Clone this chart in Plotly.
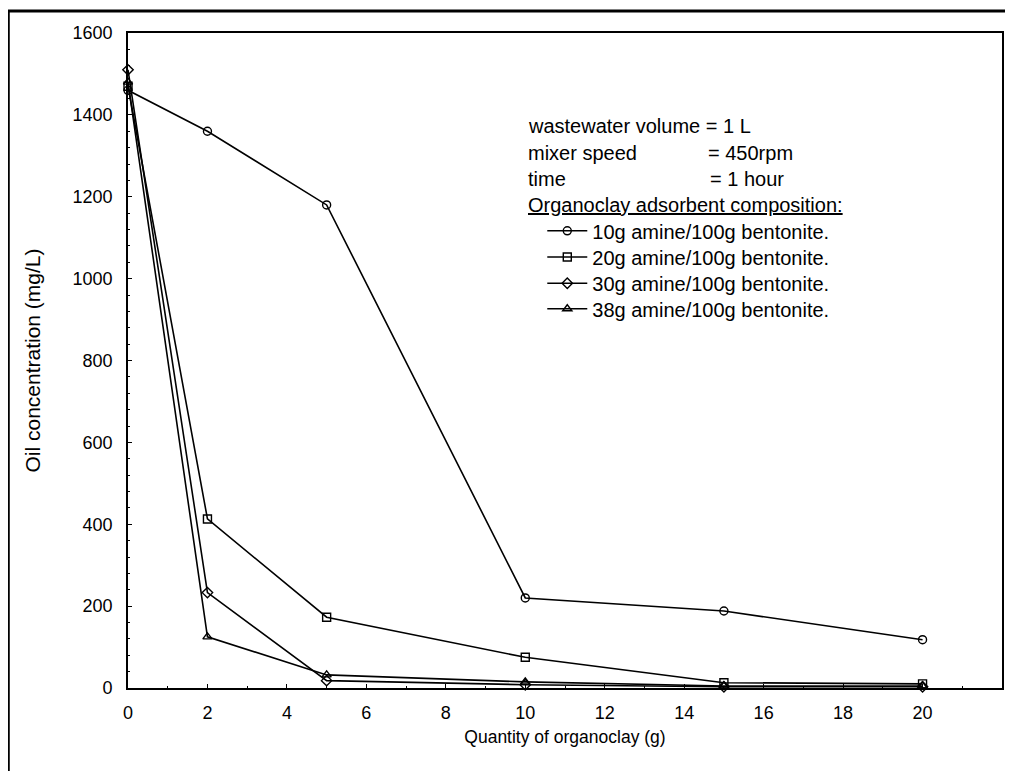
import plotly.graph_objects as go

# quantity of organoclay (g)
quantity = [0, 2, 5, 10, 15, 20]

# oil concentration (mg/L) for each adsorbent composition
amine_10 = [1460, 1360, 1180, 220, 188, 118]
amine_20 = [1470, 413, 173, 75, 13, 10]
amine_30 = [1510, 233, 18, 8, 3, 3]
amine_38 = [1480, 125, 32, 15, 5, 5]

series_names = ["10g amine/100g bentonite.", "20g amine/100g bentonite.",
                "30g amine/100g bentonite.", "38g amine/100g bentonite."]
series_symbols = ["circle-open", "square-open", "diamond-open", "triangle-up-open"]

FONT = "Liberation Sans, Arial, sans-serif"

fig = go.Figure()
legend_ids = ["legend", "legend2", "legend3", "legend4"]
for i, ys in enumerate([amine_10, amine_20, amine_30, amine_38]):
    fig.add_trace(go.Scatter(
        x=quantity, y=ys, mode="lines+markers", name=series_names[i],
        legend=legend_ids[i], showlegend=True, cliponaxis=False,
        line=dict(color="black", width=1.6),
        marker=dict(symbol=series_symbols[i], size=8, color="black",
                    line=dict(width=1.4, color="black")),
    ))

axis_common = dict(showline=True, linecolor="black", linewidth=1.6, mirror=True,
                   showgrid=False, zeroline=False, ticks="inside", ticklen=4,
                   tickwidth=1.2, tickcolor="black",
                   tickfont=dict(family=FONT, size=18, color="black"))

fig.update_xaxes(range=[0, 22], dtick=2, tick0=0,
                 minor=dict(dtick=1, ticks="inside", ticklen=2, tickcolor="black"),
                 title_text="Quantity of organoclay (g)", title_standoff=8,
                 title_font=dict(family=FONT, size=17.5, color="black"),
                 ticklabelstandoff=8, **axis_common)
fig.update_yaxes(range=[0, 1600], dtick=200, tick0=0,
                 minor=dict(dtick=40, ticks="inside", ticklen=2, tickcolor="black"),
                 title_text="Oil concentration (mg/L)", title_standoff=26,
                 title_font=dict(family=FONT, size=21, color="black"),
                 ticklabelstandoff=10, **axis_common)

# text block with the test conditions
info = [("wastewater volume = 1 L", 0.455, 0.858),
        ("mixer speed", 0.455, 0.817),
        ("= 450rpm", 0.661, 0.817),
        ("time", 0.455, 0.777),
        ("= 1 hour", 0.664, 0.777),
        ("<u>Organoclay adsorbent composition:</u>", 0.455, 0.737)]
for txt, ax, ay in info:
    fig.add_annotation(text=txt, x=ax, y=ay, xref="paper", yref="paper",
                       xanchor="left", yanchor="middle", showarrow=False,
                       font=dict(family=FONT, size=20, color="black"))

# outer frame (cut off at right and bottom)
fig.add_shape(type="rect", xref="paper", yref="paper",
              x0=-0.137, x1=1.3, y0=-0.3, y1=1.0336,
              line=dict(color="black", width=3), layer="below")

legend_style = dict(x=0.474, xanchor="left", yanchor="middle",
                    bgcolor="rgba(0,0,0,0)", itemwidth=40,
                    font=dict(family=FONT, size=20, color="black"))
legend_rows = [0.698, 0.658, 0.618, 0.579]

fig.update_layout(
    width=997, height=763,
    margin=dict(l=120, r=1, t=25, b=83),
    plot_bgcolor="white", paper_bgcolor="white",
    font=dict(family=FONT, size=18, color="black"),
    showlegend=True,
    legend=dict(y=legend_rows[0], **legend_style),
    legend2=dict(y=legend_rows[1], **legend_style),
    legend3=dict(y=legend_rows[2], **legend_style),
    legend4=dict(y=legend_rows[3], **legend_style),
)

fig.write_html("out.html")
